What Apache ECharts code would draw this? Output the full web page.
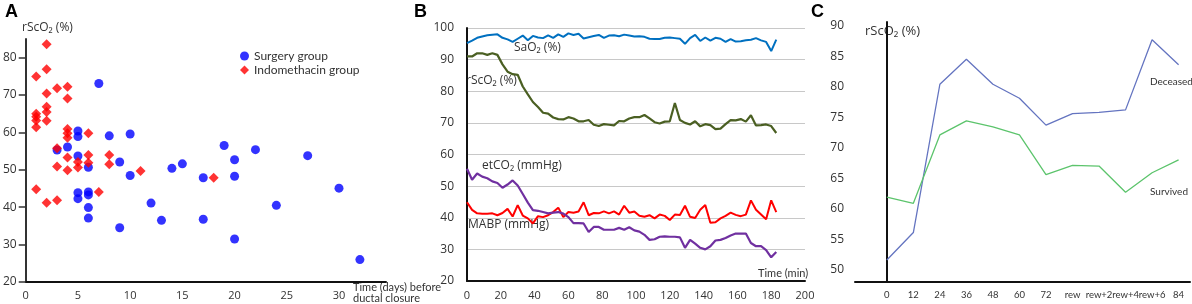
<!DOCTYPE html>
<html>
<head>
<meta charset="utf-8">
<script src="https://cdn.jsdelivr.net/npm/echarts@6/dist/echarts.min.js"></script>
<style>
  html, body { margin: 0; padding: 0; background: #fff; }
  #main { width: 1192px; height: 304px; }
</style>
</head>
<body>
<div id="main"></div>
<script>
// panel A: rScO2 vs days before ductal closure
const surgeryDays = [3, 4, 5, 5, 5, 5, 5, 6, 6, 6, 6, 6, 7, 8, 9, 9, 10, 10, 12, 13, 14, 15, 17, 17, 19, 20, 20, 20, 22, 24, 27, 30, 32];
const surgeryRsco2 = [55.3, 56.1, 60.4, 58.9, 53.7, 43.9, 42.3, 50.7, 44.1, 43.3, 39.9, 37.1, 73.1, 59.1, 52.1, 34.5, 59.6, 48.5, 41.1, 36.5, 50.4, 51.6, 47.9, 36.8, 56.5, 52.7, 48.3, 31.5, 55.4, 40.5, 53.8, 45.1, 26.0];
const indoDays = [1, 1, 1, 1, 1, 1, 2, 2, 2, 2, 2, 2, 2, 3, 3, 3, 3, 4, 4, 4, 4, 4, 4, 4, 5, 5, 6, 6, 6, 7, 8, 8, 11, 18];
const indoRsco2 = [75.0, 65.0, 64.2, 63.2, 61.4, 44.8, 83.6, 76.9, 70.4, 66.9, 65.5, 63.1, 41.2, 71.8, 55.8, 50.9, 41.9, 72.2, 69.1, 60.9, 59.8, 58.6, 53.3, 49.9, 52.1, 50.6, 59.8, 54.0, 51.9, 44.1, 54.0, 51.5, 49.7, 47.9];
const daysTicks = [0, 5, 10, 15, 20, 25, 30];
const rsco2TicksA = [20, 30, 40, 50, 60, 70, 80];

// panel B: monitoring over time (min)
const timeMin = [0, 3, 6, 9, 12, 15, 18, 21, 24, 27, 30, 33, 36, 39, 42, 45, 48, 51, 54, 57, 60, 63, 66, 69, 72, 75, 78, 81, 84, 87, 90, 93, 96, 99, 102, 105, 108, 111, 114, 117, 120, 123, 126, 129, 132, 135, 138, 141, 144, 147, 150, 153, 156, 159, 162, 165, 168, 171, 174, 177, 180, 183];
const sao2 = [95.2, 96.0, 96.9, 97.3, 97.7, 97.9, 98.0, 96.9, 96.4, 95.6, 96.6, 97.6, 96.1, 97.5, 97.0, 96.8, 97.7, 96.9, 98.0, 97.2, 98.3, 97.8, 98.2, 96.7, 97.1, 97.5, 97.8, 96.9, 97.6, 97.7, 97.4, 97.9, 97.6, 97.3, 97.4, 97.2, 96.6, 96.5, 96.5, 96.9, 97.0, 96.8, 96.6, 95.0, 96.8, 97.8, 95.9, 97.0, 96.0, 96.9, 96.6, 95.6, 96.5, 95.7, 95.8, 96.1, 96.3, 96.8, 96.1, 95.6, 92.7, 96.3];
const rsco2B = [91.0, 91.0, 92.0, 92.0, 91.5, 92.0, 91.5, 88.5, 86.2, 85.4, 85.2, 81.5, 79.0, 76.6, 75.0, 73.2, 72.9, 71.7, 71.2, 71.1, 71.8, 71.4, 70.5, 70.5, 70.9, 69.4, 69.0, 69.6, 69.4, 69.2, 70.6, 70.5, 71.4, 71.8, 71.8, 72.5, 71.4, 70.2, 69.8, 70.4, 70.5, 76.3, 70.9, 70.0, 69.5, 70.5, 68.9, 69.6, 69.3, 68.0, 68.2, 69.6, 70.9, 70.8, 71.2, 70.4, 72.4, 69.2, 69.3, 69.5, 69.0, 66.8];
const etco2 = [55.5, 52.0, 54.0, 53.0, 52.5, 51.5, 51.0, 49.5, 50.5, 51.8, 50.2, 47.5, 44.8, 42.4, 42.2, 41.8, 41.4, 41.6, 41.8, 41.3, 40.2, 38.3, 38.3, 38.2, 35.5, 37.1, 37.1, 36.2, 36.2, 36.2, 36.8, 36.2, 37.0, 36.0, 35.6, 34.6, 33.0, 33.2, 34.0, 34.1, 34.0, 34.0, 33.8, 30.5, 33.0, 31.8, 30.5, 30.0, 31.0, 32.8, 33.0, 33.6, 34.4, 35.0, 35.0, 35.0, 32.0, 31.0, 31.0, 29.8, 27.5, 29.2];
const mabp = [44.9, 42.5, 41.4, 41.3, 41.3, 41.4, 40.8, 41.5, 42.8, 40.4, 44.0, 40.7, 39.8, 38.2, 40.5, 40.2, 40.8, 41.8, 43.2, 40.2, 41.8, 41.6, 42.0, 44.9, 40.8, 41.5, 41.4, 42.0, 41.4, 42.0, 41.0, 43.8, 41.6, 42.0, 40.6, 40.3, 40.8, 39.8, 41.0, 40.6, 39.3, 41.0, 40.9, 43.8, 40.3, 39.9, 42.5, 44.0, 38.4, 38.6, 39.8, 40.6, 41.6, 40.9, 40.5, 41.0, 45.5, 42.5, 41.0, 39.5, 45.5, 41.8];

// panel C: rScO2 by time point
const timePoints = ['0', '12', '24', '36', '48', '60', '72', 'rew', 'rew+2', 'rew+4', 'rew+6', '84'];
const deceased = [51.6, 56.1, 80.4, 84.5, 80.4, 78.1, 73.7, 75.6, 75.8, 76.2, 87.7, 83.6];
const survived = [61.9, 60.9, 72.1, 74.4, 73.4, 72.1, 65.6, 67.1, 67.0, 62.7, 65.9, 68.0];
const rsco2TicksC = [50, 55, 60, 65, 70, 75, 80, 85, 90];

const zip = (xs, ys) => xs.map((x, i) => [x, ys[i]]);
const FONT = "'Open Sans', 'Noto Sans', sans-serif";
const NARROW = "Lato, 'Liberation Sans', sans-serif";
const axisBlack = { lineStyle: { color: '#111', width: 2 } };
const labelStyle = { color: '#333', fontSize: 12, fontFamily: FONT };

function txt(left, top, text, size, family) {
  return {
    type: 'text', left: left, top: top,
    style: { text: text, fontSize: size, fontFamily: family || FONT, fill: '#333', lineHeight: size }
  };
}
function letter(left, text) {
  return {
    type: 'text', left: left, top: 3,
    style: { text: text, font: 'bold 18px Arial, "Liberation Sans", sans-serif', fill: '#000' }
  };
}

var myChart = echarts.init(document.getElementById('main'));

var option = {
  animation: false,
  backgroundColor: '#fff',
  grid: [
    { left: 22, top: 39, width: 364, height: 243 },
    { left: 467, top: 28, width: 338, height: 253 },
    { left: 855, top: 22, width: 335, height: 260 }
  ],
  legend: {
    data: ['Surgery group', 'Indomethacin group'],
    left: 235, top: 45, orient: 'vertical',
    itemGap: 2, itemWidth: 9, itemHeight: 9,
    textStyle: { color: '#333', fontSize: 12, fontFamily: NARROW }
  },
  xAxis: [
    {
      gridIndex: 0, type: 'value', min: 0, max: 34.5,
      axisLine: axisBlack, axisTick: { show: false }, splitLine: { show: false },
      axisLabel: Object.assign({ customValues: daysTicks, margin: 8 }, labelStyle, { fontSize: 11 })
    },
    {
      gridIndex: 1, type: 'value', min: 0, max: 200, interval: 20,
      axisLine: axisBlack, axisTick: { show: false }, splitLine: { show: false },
      axisLabel: Object.assign({ margin: 9 }, labelStyle, { fontSize: 11 })
    },
    {
      gridIndex: 2, type: 'value', min: -1.2, max: 11.43,
      axisLine: axisBlack, axisTick: { show: false }, splitLine: { show: false },
      axisLabel: Object.assign({
        customValues: timePoints.map((_, i) => i), margin: 8,
        formatter: (v) => timePoints[Math.round(v)]
      }, labelStyle, { fontSize: 9.5, fontFamily: NARROW })
    }
  ],
  yAxis: [
    {
      gridIndex: 0, type: 'value', min: 20, max: 85,
      axisLine: { show: true, lineStyle: { color: '#333', width: 2 } },
      axisTick: { show: true, customValues: rsco2TicksA, length: 7, lineStyle: { color: '#333', width: 1.5 } },
      splitLine: { show: false },
      axisLabel: Object.assign({ customValues: rsco2TicksA, margin: 9 }, labelStyle)
    },
    {
      gridIndex: 1, type: 'value', min: 20, max: 100, interval: 10,
      axisLine: Object.assign({ show: true }, axisBlack), axisTick: { show: false },
      splitLine: { show: true, lineStyle: { color: '#c8c8c8', width: 1 } },
      axisLabel: Object.assign({ margin: 13 }, labelStyle)
    },
    {
      gridIndex: 2, type: 'value', min: 48, max: 90.6,
      axisLine: Object.assign({ show: true }, axisBlack), axisTick: { show: false },
      splitLine: { show: false },
      axisLabel: Object.assign({ customValues: rsco2TicksC, margin: 11 }, labelStyle)
    }
  ],
  series: [
    {
      name: 'Surgery group', type: 'scatter', xAxisIndex: 0, yAxisIndex: 0,
      symbol: 'circle', symbolSize: 9, itemStyle: { color: '#0000ff' },
      data: zip(surgeryDays, surgeryRsco2)
    },
    {
      name: 'Indomethacin group', type: 'scatter', xAxisIndex: 0, yAxisIndex: 0,
      symbol: 'diamond', symbolSize: 10, itemStyle: { color: '#ff0000' },
      data: zip(indoDays, indoRsco2)
    },
    {
      name: 'SaO2', type: 'line', xAxisIndex: 1, yAxisIndex: 1, showSymbol: false,
      lineStyle: { color: '#0070c0', width: 2 }, itemStyle: { color: '#0070c0' },
      data: zip(timeMin, sao2)
    },
    {
      name: 'rScO2', type: 'line', xAxisIndex: 1, yAxisIndex: 1, showSymbol: false,
      lineStyle: { color: '#4a5f22', width: 2.2 }, itemStyle: { color: '#4a5f22' },
      data: zip(timeMin, rsco2B)
    },
    {
      name: 'MABP', type: 'line', xAxisIndex: 1, yAxisIndex: 1, showSymbol: false,
      lineStyle: { color: '#ff0000', width: 2 }, itemStyle: { color: '#ff0000' },
      data: zip(timeMin, mabp)
    },
    {
      name: 'etCO2', type: 'line', xAxisIndex: 1, yAxisIndex: 1, showSymbol: false,
      lineStyle: { color: '#7030a0', width: 2.2 }, itemStyle: { color: '#7030a0' },
      data: zip(timeMin, etco2)
    },
    {
      name: 'Deceased', type: 'line', xAxisIndex: 2, yAxisIndex: 2, showSymbol: false,
      lineStyle: { color: '#6474c0', width: 1.3 }, itemStyle: { color: '#6474c0' },
      data: zip(timePoints.map((_, i) => i), deceased)
    },
    {
      name: 'Survived', type: 'line', xAxisIndex: 2, yAxisIndex: 2, showSymbol: false,
      lineStyle: { color: '#5cc46c', width: 1.3 }, itemStyle: { color: '#5cc46c' },
      data: zip(timePoints.map((_, i) => i), survived)
    }
  ],
  graphic: [
    letter(5, 'A'),
    letter(414, 'B'),
    letter(811, 'C'),
    txt(22, 22, 'rScO\u2082 (%)', 12),
    txt(353, 282, 'Time (days) before\nductal closure', 11, NARROW),
    txt(514, 42, 'SaO\u2082 (%)', 12),
    txt(466, 75, 'rScO\u2082 (%)', 12),
    txt(482, 160, 'etCO\u2082 (mmHg)', 12),
    txt(468, 219, 'MABP (mmHg)', 12),
    txt(758, 268, 'Time (min)', 11, NARROW),
    txt(865, 25, 'rScO\u2082 (%)', 13),
    txt(1150, 77, 'Deceased', 10, NARROW),
    txt(1150, 187, 'Survived', 10, NARROW)
  ]
};
myChart.setOption(option);
</script>
</body>
</html>
